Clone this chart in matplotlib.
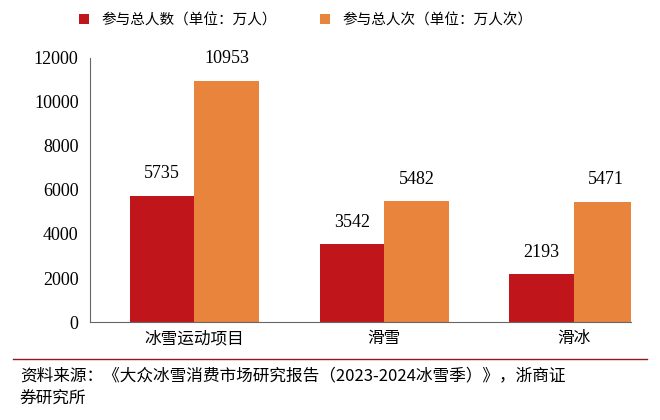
import matplotlib
matplotlib.use("Agg")
import matplotlib.pyplot as plt
import numpy as np

plt.rcParams['font.family'] = ['Noto Sans CJK SC', 'DejaVu Sans']

categories = ['冰雪运动项目', '滑雪', '滑冰']
people = [5735, 3542, 2193]
visits = [10953, 5482, 5471]
series_names = ['参与总人数（单位：万人）', '参与总人次（单位：万人次）']
source = '资料来源：《大众冰雪消费市场研究报告（2023-2024冰雪季）》，浙商证\n券研究所'

red = '#C0161B'
orange = '#E8843C'
num_font = {'family': ['Liberation Serif'], 'size': 13}

fig = plt.figure(figsize=(6.6, 4.2), dpi=100)
ax = fig.add_axes([0.136, 0.233, 0.82, 0.63])

x = np.arange(len(categories))
w = 0.34
b1 = ax.bar(x - w / 2, people, w, color=red, label=series_names[0])
b2 = ax.bar(x + w / 2, visits, w, color=orange, label=series_names[1])
for bars in (b1, b2):
    for r in bars:
        ax.text(r.get_x() + r.get_width() / 2, r.get_height() + 600, f'{int(r.get_height())}',
                ha='center', va='bottom', fontdict=num_font)

ax.set_ylim(0, 12000)
ax.set_yticks(range(0, 12001, 2000))
ax.set_xlim(-0.55, 2.3)
ax.set_xticks(x)
ax.set_xticklabels(categories, fontsize=12)
for lbl in ax.get_yticklabels():
    lbl.set_fontfamily('Liberation Serif')
    lbl.set_fontsize(13)
ax.tick_params(axis='y', length=0, pad=8)
ax.tick_params(axis='x', length=0, pad=6)
for s in ['top', 'right']:
    ax.spines[s].set_visible(False)
ax.spines['left'].set_color('#666666')
ax.spines['bottom'].set_color('#666666')

fig.legend(loc='upper left', bbox_to_anchor=(0.1, 1.0), ncol=2, frameon=False,
           fontsize=10.5, handlelength=0.7, handleheight=0.7, columnspacing=3)

fig.add_artist(plt.Line2D([0.02, 0.98], [0.145, 0.145], color='#8B1A1A', lw=1))
fig.text(0.03, 0.125, source, fontsize=12, va='top', linespacing=1.4)

fig.savefig('out.png', dpi=100)
